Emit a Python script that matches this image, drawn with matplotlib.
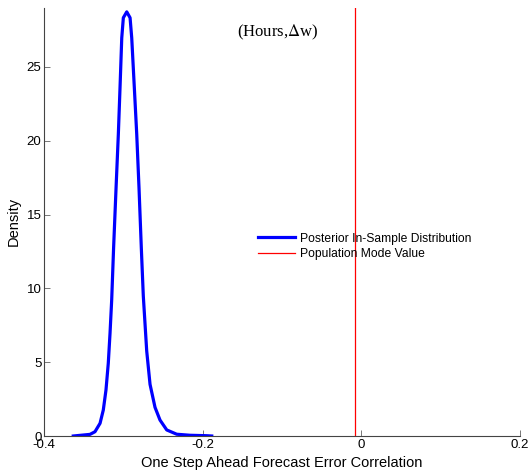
import matplotlib
matplotlib.use('Agg')
import matplotlib.pyplot as plt
import numpy as np

plt.rcParams['font.family'] = ['Liberation Sans', 'DejaVu Sans']

# posterior density of the one step ahead forecast error correlation
corr = [-0.3634, -0.3423, -0.3360, -0.3296, -0.3255, -0.3221, -0.3192, -0.3170,
        -0.3149, -0.3125, -0.3094, -0.3065, -0.3044, -0.3022, -0.3002, -0.2959,
        -0.2917, -0.2896, -0.2863, -0.2833, -0.2804, -0.2775, -0.2750, -0.2707,
        -0.2665, -0.2602, -0.2539, -0.2454, -0.2328, -0.2160, -0.1949, -0.1886]
density = [0.0, 0.11, 0.29, 0.86, 1.76, 3.12, 4.93, 6.96,
           9.22, 12.73, 16.79, 20.45, 23.57, 26.96, 28.33, 28.73,
           28.33, 26.96, 23.57, 20.45, 16.79, 12.73, 9.49, 5.76,
           3.50, 1.94, 1.08, 0.41, 0.12, 0.05, 0.02, 0.0]
mode_value = -0.0072

xticks = [-0.4, -0.2, 0, 0.2]
xticklabels = ['-0.4', '-0.2', '0', '0.2']
yticks = [0, 5, 10, 15, 20, 25]

fig = plt.figure(figsize=(5.29, 4.71), dpi=100)
ax = fig.add_axes([0.0837, 0.0743, 0.8985, 0.909])

ax.plot(corr, density, color='#0000ff', lw=2.3, solid_joinstyle='round',
        label='Posterior In-Sample Distribution')
ax.axvline(mode_value, color='#ff0000', lw=0.9, label='Population Mode Value')

ax.set_xlim(-0.4, 0.2)
ax.set_ylim(0, 29)
ax.set_xticks(xticks)
ax.set_xticklabels(xticklabels)
ax.set_yticks(yticks)

for s in ['top', 'right']:
    ax.spines[s].set_visible(False)
for s in ['left', 'bottom']:
    ax.spines[s].set_color('#444444')
    ax.spines[s].set_linewidth(0.8)
ax.tick_params(direction='in', length=4, width=0.7, color='#777777',
               labelsize=9.5, pad=2)

ax.set_xlabel('One Step Ahead Forecast Error Correlation', fontsize=10.5, labelpad=4)
ax.set_ylabel('Density', fontsize=10.5, labelpad=4)

ax.text(0.49, 0.942, '(Hours,$\\Delta$w)', transform=ax.transAxes,
        ha='center', va='center', fontsize=12, family='Liberation Serif',
        math_fontfamily='stix')

ax.legend(loc='center left', bbox_to_anchor=(0.4496, 0.443), frameon=False,
          fontsize=8.7, handlelength=3.05, handletextpad=0.45, labelspacing=0.3,
          borderpad=0, borderaxespad=0)

fig.savefig('out.png', dpi=100)
